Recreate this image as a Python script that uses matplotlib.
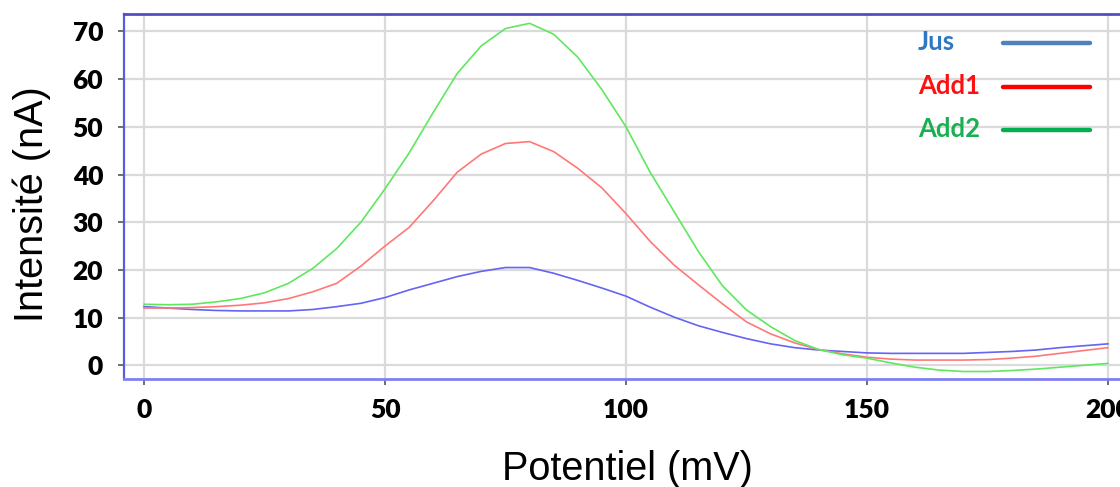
import matplotlib
matplotlib.use("Agg")
import matplotlib.pyplot as plt
from matplotlib.lines import Line2D

# Potentiel (mV), pas de 5 mV
potentiel = list(range(0, 205, 5))

jus = [12.3, 12.0, 11.7, 11.5, 11.4, 11.4, 11.4, 11.7, 12.3, 13.0,
       14.2, 15.8, 17.2, 18.6, 19.7, 20.5, 20.5, 19.3, 17.8, 16.2,
       14.5, 12.2, 10.1, 8.3, 6.9, 5.6, 4.5, 3.7, 3.2, 2.9,
       2.6, 2.5, 2.5, 2.5, 2.5, 2.7, 2.9, 3.2, 3.7, 4.1, 4.5]

add1 = [12.0, 12.0, 12.1, 12.3, 12.6, 13.1, 14.0, 15.4, 17.2, 20.8,
        25.0, 28.9, 34.5, 40.5, 44.3, 46.5, 46.9, 44.8, 41.3, 37.2,
        31.8, 26.0, 21.0, 16.9, 12.9, 9.1, 6.6, 4.7, 3.3, 2.4,
        1.7, 1.3, 1.1, 1.1, 1.1, 1.2, 1.5, 1.9, 2.5, 3.1, 3.7]

add2 = [12.8, 12.7, 12.8, 13.3, 14.0, 15.2, 17.2, 20.3, 24.5, 30.0,
        37.0, 44.5, 53.0, 61.2, 67.0, 70.6, 71.7, 69.4, 64.6, 57.8,
        50.0, 40.5, 32.2, 23.9, 16.7, 11.6, 8.1, 5.2, 3.3, 2.2,
        1.5, 0.5, -0.4, -1.0, -1.3, -1.3, -1.1, -0.8, -0.4, 0.0, 0.4]

xticks = [0, 50, 100, 150, 200]
yticks = [0, 10, 20, 30, 40, 50, 60, 70]

noms = ["Jus", "Add1", "Add2"]
couleurs_courbes = ["#6464f5", "#ff7878", "#5fe85f"]
couleurs_legende = ["#4f81bd", "#ff0000", "#00b050"]
couleurs_texte = ["#2f78c4", "#ff1010", "#18b050"]

W, H = 1120, 487
fig = plt.figure(figsize=(W / 100, H / 100), dpi=100)
ax = fig.add_axes([124 / W, 1 - 379 / H, 996 / W, 365 / H])

for serie, c in zip([jus, add1, add2], couleurs_courbes):
    ax.plot(potentiel, serie, color=c, lw=1.2, zorder=3)

ax.set_xlim(-4.15, 202.5)
ax.set_ylim(-2.87, 73.65)
ax.set_xticks(xticks)
ax.set_yticks(yticks)
ax.grid(True, color="#dadada", lw=1.6)
ax.set_axisbelow(True)

for lab in ax.get_xticklabels() + ax.get_yticklabels():
    lab.set_fontfamily("Lato")
    lab.set_fontweight("heavy")
    lab.set_fontsize(19)
ax.tick_params(axis="y", length=4, width=1.2, color="#555555", pad=11)
ax.tick_params(axis="x", length=4, width=1.2, color="#555555", pad=10)

ax.spines["right"].set_visible(False)
ax.spines["left"].set_color("#5b5be0")
ax.spines["left"].set_linewidth(1.6)
ax.spines["top"].set_color("#5050c0")
ax.spines["top"].set_linewidth(2.0)
ax.spines["bottom"].set_color("#8080f5")
ax.spines["bottom"].set_linewidth(2.0)

ax.set_xlabel("Potentiel (mV)", family="Liberation Sans", fontsize=28.5)
ax.set_ylabel("Intensité (nA)", family="Liberation Sans", fontsize=28.5)
ax.xaxis.set_label_coords(0.505, -0.195)
ax.yaxis.set_label_coords(-0.073, 0.478)

# legende : nom a gauche, trait a droite
leg_y = [42, 86, 129]
for nom, ct, cl, y in zip(noms, couleurs_texte, couleurs_legende, leg_y):
    fig.text(918 / W, 1 - y / H, nom, color=ct, family="Lato",
             weight="bold", fontsize=18.5, ha="left", va="center")
    fig.add_artist(Line2D([1003 / W, 1090 / W], [1 - (y + 1) / H] * 2,
                          transform=fig.transFigure, color=cl, lw=3.2,
                          solid_capstyle="round"))

fig.savefig("out.png", dpi=100)
